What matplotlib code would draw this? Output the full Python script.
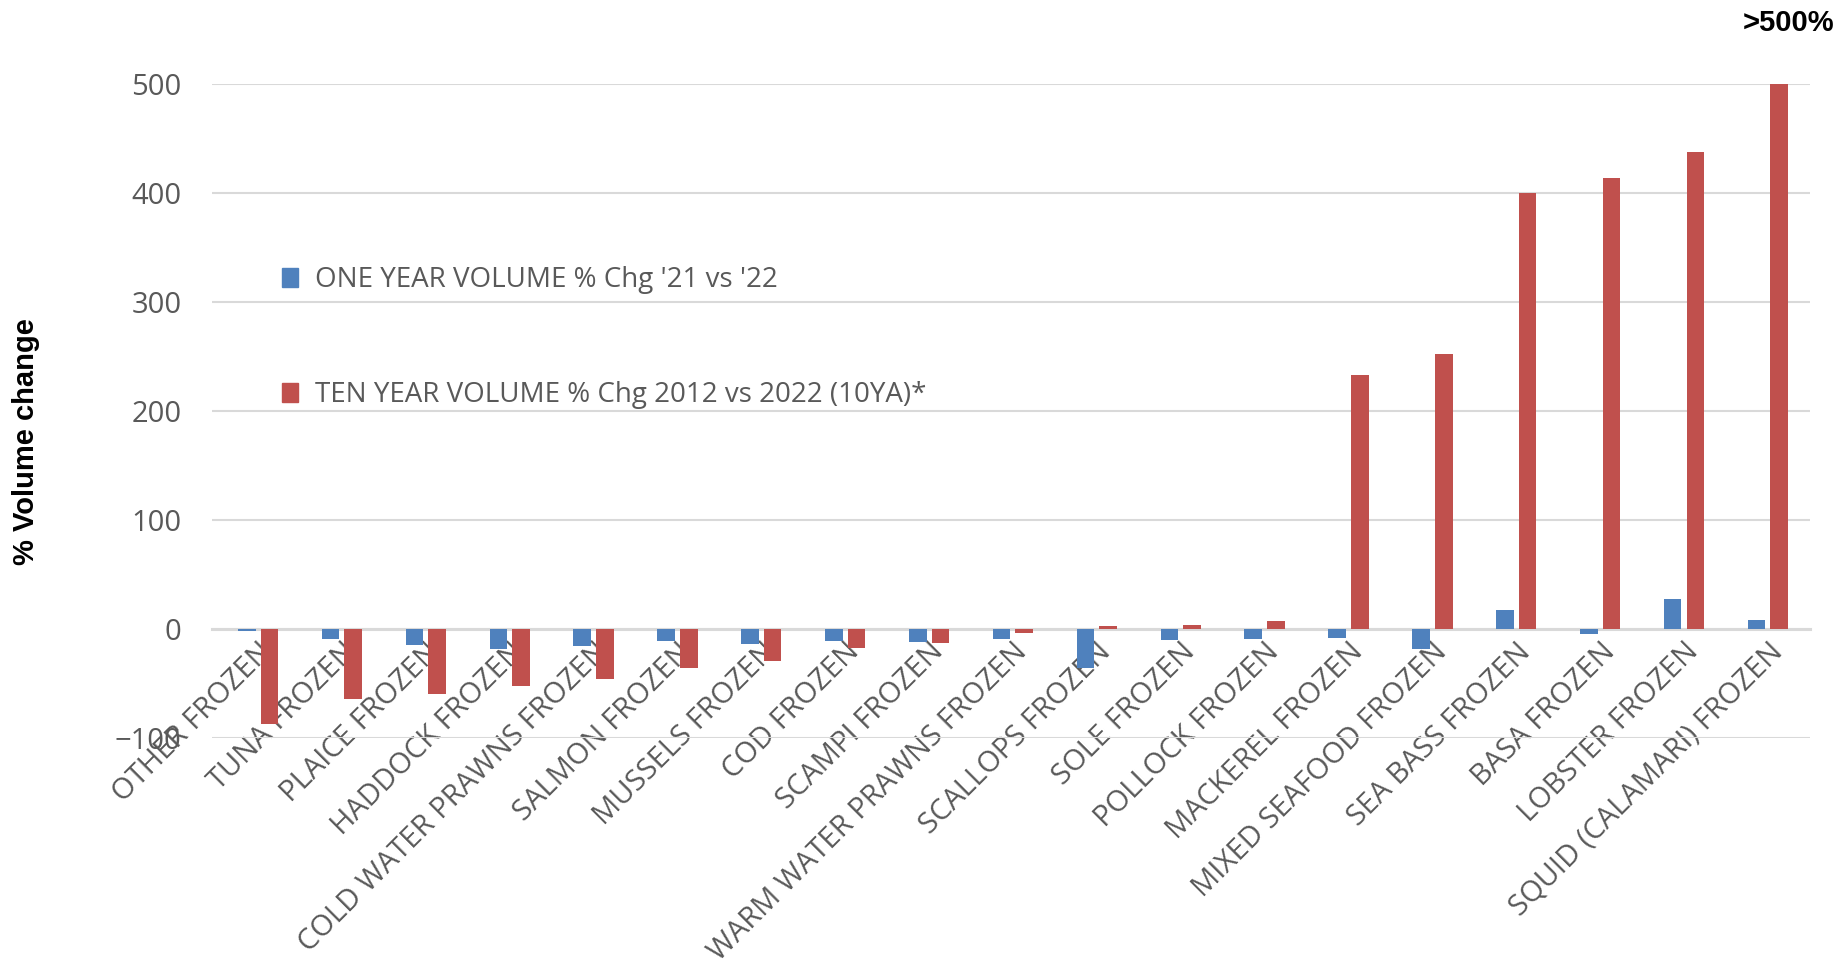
import matplotlib
matplotlib.use("Agg")
import matplotlib.pyplot as plt
import matplotlib.patches as mpatches
import numpy as np

categories = ["OTHER FROZEN", "TUNA FROZEN", "PLAICE FROZEN", "HADDOCK FROZEN",
              "COLD WATER PRAWNS FROZEN", "SALMON FROZEN", "MUSSELS FROZEN",
              "COD FROZEN", "SCAMPI FROZEN", "WARM WATER PRAWNS FROZEN",
              "SCALLOPS FROZEN", "SOLE FROZEN", "POLLOCK FROZEN", "MACKEREL FROZEN",
              "MIXED SEAFOOD FROZEN", "SEA BASS FROZEN", "BASA FROZEN",
              "LOBSTER FROZEN", "SQUID (CALAMARI) FROZEN"]

# % volume change, 1 year and 10 year
one_year = [-1.5, -9, -15, -18, -15.5, -11, -13.5, -11, -12, -9,
            -36, -10, -9, -8, -18.5, 17, -5, 28, 8]
ten_year = [-87, -64, -60, -52, -46, -36, -29, -17, -12.5, -3.5,
            3, 4, 7, 233, 252, 400, 414, 438, 500]

series_names = ["ONE YEAR VOLUME % Chg '21 vs '22",
                "TEN YEAR VOLUME % Chg 2012 vs 2022 (10YA)*"]
y_ticks = [-100, 0, 100, 200, 300, 400, 500]
top_note = ">500%"

blue = "#4F81BD"
red = "#C0504D"
grey_txt = "#595959"
grid_col = "#D9D9D9"

plt.rcParams['font.family'] = ['Open Sans', 'DejaVu Sans']

fig = plt.figure(figsize=(18.43, 9.72), dpi=100)
ax = fig.add_axes([0.115, 0.2407, 0.867, 0.6729])

x = np.arange(len(categories))
w = 0.21
off = 0.135
ax.bar(x - off, one_year, width=w, color=blue, zorder=3)
ax.bar(x + off, ten_year, width=w, color=red, zorder=3)

ax.set_xlim(-0.55, len(categories) - 0.5)
ax.set_ylim(-100, 500)
ax.set_yticks(y_ticks)
ax.yaxis.grid(True, color=grid_col, linewidth=1.5, zorder=0)
ax.tick_params(axis='y', length=0, pad=22, labelsize=21, labelcolor=grey_txt)

# category axis sits on the zero line
ax.spines['bottom'].set_position(('data', 0))
ax.spines['bottom'].set_color(grid_col)
ax.spines['bottom'].set_linewidth(2.2)
ax.spines['bottom'].set_zorder(2)
for s in ['top', 'right', 'left']:
    ax.spines[s].set_visible(False)

ax.set_xticks(x)
ax.set_xticklabels(categories, rotation=45, ha='right', rotation_mode='anchor',
                   fontsize=21, color=grey_txt)
ax.tick_params(axis='x', length=0, pad=6)

fig.text(0.014, 0.546, "% Volume change", rotation=90, ha='center', va='center',
         fontsize=21, fontweight='bold', family=['Liberation Sans', 'DejaVu Sans'])

ax.annotate(top_note, xy=(x[-1] + off, ten_year[-1]), xytext=(7, 44),
            textcoords='offset points', ha='center', va='center',
            fontsize=21, fontweight='bold', family=['Liberation Sans', 'DejaVu Sans'],
            annotation_clip=False)

handles = [mpatches.Patch(color=blue, label=series_names[0]),
           mpatches.Patch(color=red, label=series_names[1])]
ax.legend(handles=handles, loc='upper left', bbox_to_anchor=(0.028, 0.76),
          frameon=False, fontsize=20, labelcolor=grey_txt,
          handlelength=0.6, handleheight=0.7, handletextpad=0.6,
          labelspacing=3.15)

fig.savefig("out.png", dpi=100)
